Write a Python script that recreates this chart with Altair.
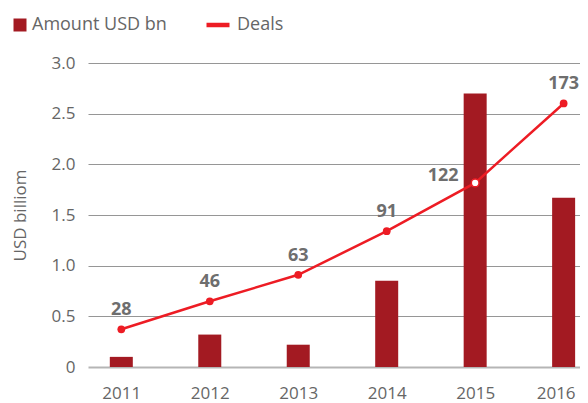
import altair as alt
import pandas as pd

years = [2011, 2012, 2013, 2014, 2015, 2016]
amount_usd_bn = [0.10, 0.32, 0.22, 0.85, 2.70, 1.67]
deals = [28, 46, 63, 91, 122, 173]
hollow = [False, False, False, False, True, False]

df = pd.DataFrame({"year": years, "amount": amount_usd_bn, "deals": deals, "hollow": hollow})

FONT = "Open Sans"
BAR = "#A31A22"
LINE = "#ED1C24"
GRAY = "#666666"

PLOT_W = 492
x = alt.X("year:Q", scale=alt.Scale(domain=[2010.68, 2010.68 + PLOT_W / 90.3], nice=False, zero=False),
          axis=alt.Axis(values=years, format="d", title=None, grid=False, domain=False, ticks=False,
                        labelOffset={"condition": {"test": "datum.value == 2016", "value": -8}, "value": 0},
                        labelPadding=18, labelFontSize=17, labelColor=GRAY, labelFont=FONT))

bars = alt.Chart(df).mark_bar(size=23).encode(
    x=x,
    y=alt.Y("amount:Q", scale=alt.Scale(domain=[0, 3], nice=False),
            axis=alt.Axis(values=[0, 0.5, 1, 1.5, 2, 2.5, 3],
                          labelExpr="datum.value == 0 ? '0' : format(datum.value, '.1f')",
                          title="USD billiom", titleFontSize=17, titleFont=FONT, titleColor=GRAY,
                          titleFontWeight="normal", titlePadding=22,
                          labelFontSize=17, labelColor=GRAY, labelFont=FONT, labelPadding=13,
                          domain=False, ticks=False,
                          gridColor={"condition": {"test": "datum.value === 0", "value": "#b5b5b5"}, "value": "#969696"},
                          gridWidth={"condition": {"test": "datum.value === 0", "value": 2}, "value": 1.2})),
    color=alt.Color("series:N", scale=alt.Scale(domain=["Amount USD bn"], range=[BAR]),
                    legend=alt.Legend(title=None, orient="none", legendX=-77, legendY=-47,
                                      symbolType="square", symbolSize=169, symbolStrokeWidth=0,
                                      labelFontSize=18, labelColor=GRAY, labelFont=FONT, labelOffset=3,
                                      padding=0)),
).transform_calculate(series="'Amount USD bn'")

ydeals = alt.Y("deals:Q", scale=alt.Scale(domain=[3.8, 199], nice=False, zero=False), axis=None)

line = alt.Chart(df).mark_line(strokeWidth=2.5).encode(
    x=x, y=ydeals,
    color=alt.Color("series:N", scale=alt.Scale(domain=["Deals"], range=[LINE]),
                    legend=alt.Legend(title=None, orient="none", legendX=116, legendY=-52,
                                      symbolType="stroke", symbolSize=529, symbolStrokeWidth=4.5,
                                      labelFontSize=18, labelColor=GRAY, labelFont=FONT, labelOffset=5,
                                      padding=0)),
).transform_calculate(series="'Deals'")

points = alt.Chart(df).mark_point(filled=True, size=60, opacity=1).encode(
    x=x, y=ydeals,
    fill=alt.condition("datum.hollow", alt.value("white"), alt.value(LINE)),
    stroke=alt.condition("datum.hollow", alt.value(LINE), alt.value(LINE)),
    strokeWidth=alt.condition("datum.hollow", alt.value(1.5), alt.value(0)),
)

labels_main = alt.Chart(df).transform_filter("!datum.hollow").mark_text(
    dy=-19, fontSize=18, fontWeight="bold", color="#6e6e6e", font=FONT, baseline="middle"
).encode(x=x, y=ydeals, text="deals:Q")

labels_side = alt.Chart(df).transform_filter("datum.hollow").mark_text(
    dx=-32, dy=-7, fontSize=18, fontWeight="bold", color="#6e6e6e", font=FONT, baseline="middle"
).encode(x=x, y=ydeals, text="deals:Q")

deal_layer = alt.layer(line, points, labels_main, labels_side)

chart = alt.layer(bars, deal_layer).resolve_scale(y="independent", color="independent").properties(
    width=PLOT_W, height=304,
    autosize=alt.AutoSizeParams(type="none"),
    padding={"left": 80, "top": 55, "right": 0, "bottom": 35},
).configure_view(stroke=None)

chart.save("out.html", embed_options={"renderer": "svg", "actions": False})
